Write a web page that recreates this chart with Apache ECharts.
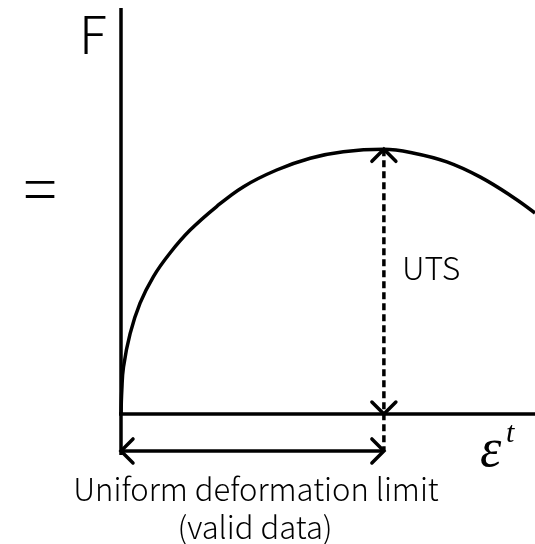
<!DOCTYPE html>
<html>
<head>
<meta charset="utf-8">
<script src="https://cdn.jsdelivr.net/npm/echarts@6/dist/echarts.min.js"></script>
<style>
html,body{margin:0;padding:0;background:#fff;}
#chart{width:535px;height:544px;}
</style>
</head>
<body>
<div id="chart"></div>
<script>
// normalized true strain (x) and force (y)
const strain = [0, 0.002, 0.006, 0.022, 0.046, 0.078, 0.118, 0.167, 0.231, 0.296, 0.376, 0.457, 0.537, 0.635, 0.705, 0.787, 0.867, 0.947, 1.0];
const force  = [0, 0.060, 0.116, 0.198, 0.273, 0.338, 0.396, 0.453, 0.511, 0.560, 0.601, 0.630, 0.646, 0.652, 0.643, 0.621, 0.584, 0.534, 0.495];
const utsStrain = 0.635;
const utsForce = 0.652;
const limitLevel = -0.091;       // level of the uniform-deformation arrow
const xAxisExtent = [-0.072, 1.0]; // drawn strain axis
const yAxisExtent = [-0.101, 1.0]; // drawn force axis
const yLabel = 'F';
const eqLabel = '=';
const utsLabel = 'UTS';
const xLabel = 'ε';
const xLabelSup = 't';
const captionLines = ['Uniform deformation limit', '(valid data)'];

const curveData = strain.map((s, i) => [s, force[i]]);
// arrow heads: [x, y, direction angle in degrees]
const arrowHeads = [
  [utsStrain, utsForce, 90],
  [utsStrain, 0, 270],
  [utsStrain, limitLevel, 0],
  [0, limitLevel, 180]
];

const black = '#000';
const lw = 3.5;
const font = '"Noto Sans CJK KR", "Noto Sans", sans-serif';

const chart = echarts.init(document.getElementById('chart'), null, {renderer: 'canvas'});
chart.setOption({
  backgroundColor: '#fff',
  animation: false,
  grid: {left: 121, right: 0, top: 8, bottom: 130, containLabel: false},
  xAxis: {type: 'value', min: 0, max: 1, show: false},
  yAxis: {type: 'value', min: 0, max: 1, show: false},
  series: [
    {
      type: 'line', data: curveData, smooth: 0.4, showSymbol: false, clip: false,
      lineStyle: {color: black, width: lw}
    },
    {
      type: 'line', data: [[xAxisExtent[0], 0], [xAxisExtent[1], 0]], showSymbol: false, clip: false,
      lineStyle: {color: black, width: lw}
    },
    {
      type: 'line', data: [[0, yAxisExtent[0]], [0, yAxisExtent[1]]], showSymbol: false, clip: false,
      lineStyle: {color: black, width: lw}
    },
    {
      type: 'line', data: [[utsStrain, utsForce], [utsStrain, limitLevel]], showSymbol: false, clip: false,
      lineStyle: {color: black, width: lw, type: [7, 4]}
    },
    {
      type: 'line', data: [[0, limitLevel], [utsStrain, limitLevel]], showSymbol: false, clip: false,
      lineStyle: {color: black, width: lw}
    },
    {
      type: 'custom', data: arrowHeads, clip: false,
      renderItem: function (params, api) {
        const p = api.coord([api.value(0), api.value(1)]);
        const a = api.value(2) * Math.PI / 180;
        const dx = Math.cos(a), dy = -Math.sin(a);
        const nx = -dy, ny = dx;
        const L = 12, W = 12;
        return {
          type: 'polyline',
          shape: {points: [
            [p[0] - dx * L + nx * W, p[1] - dy * L + ny * W],
            [p[0], p[1]],
            [p[0] - dx * L - nx * W, p[1] - dy * L - ny * W]
          ]},
          style: {stroke: black, lineWidth: lw, fill: null, lineCap: 'round', lineJoin: 'miter'}
        };
      }
    }
  ],
  graphic: [
    {type: 'text', x: 79, y: 34, style: {text: yLabel, font: '300 52px ' + font, fill: black, textAlign: 'left', textVerticalAlign: 'middle'}},
    {type: 'text', x: 40, y: 188, style: {text: eqLabel, font: '300 62px ' + font, fill: black, textAlign: 'center', textVerticalAlign: 'middle'}},
    {type: 'text', x: 402, y: 268, style: {text: utsLabel, font: '300 32px ' + font, fill: black, textAlign: 'left', textVerticalAlign: 'middle'}},
    {type: 'text', x: 480, y: 452, style: {text: xLabel, font: 'italic 54px "Liberation Serif", serif', fill: black, textAlign: 'left', textVerticalAlign: 'middle'}},
    {type: 'text', x: 506, y: 434, style: {text: xLabelSup, font: 'italic 30px "Liberation Serif", serif', fill: black, textAlign: 'left', textVerticalAlign: 'middle'}},
    {type: 'text', x: 256, y: 489, style: {text: captionLines[0], font: '300 31px ' + font, fill: black, textAlign: 'center', textVerticalAlign: 'middle'}},
    {type: 'text', x: 255, y: 527, style: {text: captionLines[1], font: '300 31px ' + font, fill: black, textAlign: 'center', textVerticalAlign: 'middle'}}
  ]
});
</script>
</body>
</html>
